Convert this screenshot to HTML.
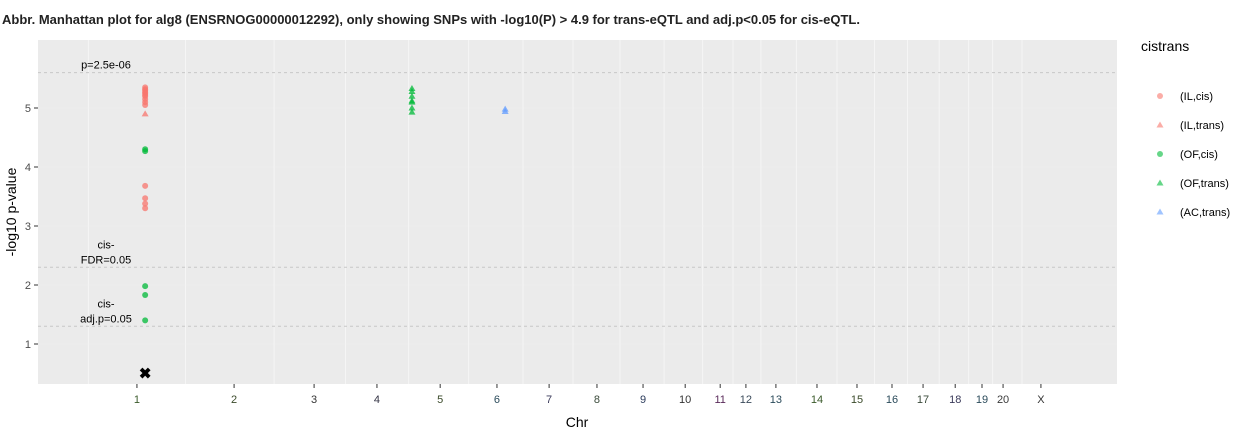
<!DOCTYPE html>
<html><head><meta charset="utf-8"><style>
body{margin:0;background:#fff;width:1251px;height:432px;overflow:hidden;font-family:"Liberation Sans",sans-serif}
</style></head><body>
<svg id="chart" width="1251" height="432" xmlns="http://www.w3.org/2000/svg" font-family="Liberation Sans, sans-serif">
<text x="2" y="24" font-size="13" font-weight="bold" fill="#222">Abbr. Manhattan plot for alg8 (ENSRNOG00000012292), only showing SNPs with -log10(P) &gt; 4.9 for trans-eQTL and adj.p&lt;0.05 for cis-eQTL.</text>
<rect x="38" y="40" width="1079" height="344" fill="#ebebeb"/>
<g id="grid"></g><g id="refs"></g><g id="pts"></g><g id="axes"></g>
<text x="577" y="427" font-size="14" text-anchor="middle" fill="#000">Chr</text>
<text transform="translate(16,212) rotate(-90)" font-size="14" text-anchor="middle" fill="#000">-log10 p-value</text>
<g id="legend">
<text x="1141" y="51" font-size="14" fill="#000">cistrans</text>
</g>
</svg>
<script>
const chrLabels=["1","2","3","4","5","6","7","8","9","10","11","12","13","14","15","16","17","18","19","20","X"];
const chrMid=[277,549,773,949,1126,1285,1431,1565,1694,1812,1910,1982,2066,2181,2293,2391,2478,2568,2643,2702,2808];
const chrColors=["#3a5a2a","#3a4a2a","#333","#334","#3a4a2a","#2a4a5a","#3a3a5a","#3a4a3a","#2a3a5a","#333","#5a2a5a","#3a4a5a","#2a4a5a","#3a5a2a","#3a4a2a","#2a4a5a","#3a4a3a","#3a3a5a","#2a4a5a","#3a3a3a","#333"];
const yTicks=[1,2,3,4,5];
const groups=["(IL,cis)","(IL,trans)","(OF,cis)","(OF,trans)","(AC,trans)"];
const groupColors=["#f8766d","#f8766d","#00ba38","#00ba38","#619cff"];
const groupShapes=["circle","tri","circle","tri","tri"];
const ptPos=[300,300,300,300,300,300,300,300,300,300,300,300,300,300, 300,300,300,300,300,300, 1047,1047,1047,1047,1047,1047,1047, 1308,1308];
const ptVal=[5.35,5.32,5.3,5.27,5.25,5.22,5.2,5.15,5.1,5.05,3.68,3.47,3.38,3.3, 4.9, 4.3,4.27,1.98,1.83,1.4, 5.33,5.28,5.2,5.12,5.1,5.0,4.93, 4.98,4.94];
const ptGroup=[0,0,0,0,0,0,0,0,0,0,0,0,0,0, 1, 2,2,2,2,2, 3,3,3,3,3,3,3, 4,4];
const refVals=[5.6,2.3,1.3];
const refLabels=[["p=2.5e-06"],["cis-","FDR=0.05"],["cis-","adj.p=0.05"]];
const xMark=[300,0.5];
const NS="http://www.w3.org/2000/svg";
const X=v=>38+v*1079/3021, Y=v=>403-v*59;
function mk(t,a,p){const e=document.createElementNS(NS,t);for(const k in a)e.setAttribute(k,a[k]);p.appendChild(e);return e;}
const grid=document.getElementById('grid'),refs=document.getElementById('refs'),pts=document.getElementById('pts'),axes=document.getElementById('axes'),leg=document.getElementById('legend');
// vertical boundaries
const bounds=[X(chrMid[0])-(X(chrMid[1])-X(chrMid[0]))/2];
for(let i=0;i<chrMid.length-1;i++)bounds.push((X(chrMid[i])+X(chrMid[i+1]))/2);
bounds.forEach(b=>{const l=mk('line',{x1:b,x2:b,y1:40,y2:384,stroke:'#f5f5f5','stroke-width':1},grid);

});
yTicks.forEach(t=>{const l=mk('line',{x1:38,x2:1117,y1:Y(t),y2:Y(t),stroke:'#f2f2f2','stroke-width':0.6},grid);


const tk=mk('line',{x1:34,x2:38,y1:Y(t),y2:Y(t),stroke:'#333'},axes);


const tx=mk('text',{x:31,y:Y(t)+4,'font-size':11,'text-anchor':'end',fill:'#4d4d4d'},axes);tx.textContent=t;

});
chrLabels.forEach((c,i)=>{const x=X(chrMid[i]);
const tk=mk('line',{x1:x,x2:x,y1:384,y2:388,stroke:'#333'},axes);


const tx=mk('text',{x:x,y:403,'font-size':11,'text-anchor':'middle',fill:chrColors[i]},axes);tx.textContent=c;

});
refVals.forEach((v,i)=>{const l=mk('line',{x1:38,x2:1117,y1:Y(v),y2:Y(v),stroke:'#c8c8c8','stroke-dasharray':'3,3','stroke-width':1},refs);


const lines=refLabels[i];lines.forEach((s,j)=>{const t=mk('text',{x:106,y:Y(v)-4-(lines.length-1-j)*15,'font-size':11,'text-anchor':'middle',fill:'#000'},refs);t.textContent=s;

});});
function shape(p,cx,cy,g,op){let e;
if(groupShapes[g]=='circle')e=mk('circle',{cx:cx,cy:cy,r:3,fill:groupColors[g],'fill-opacity':op},p);
else e=mk('polygon',{points:`${cx},${cy-3.5} ${cx-3.5},${cy+2.5} ${cx+3.5},${cy+2.5}`,fill:groupColors[g],'fill-opacity':op},p);return e;}
ptVal.forEach((v,i)=>{const e=shape(pts,X(ptPos[i]),Y(v),ptGroup[i],0.75);

});
const xm=mk('text',{x:X(xMark[0]),y:Y(xMark[1])+5,'font-size':15,'font-weight':'bold','text-anchor':'middle',fill:'#000'},pts);xm.textContent='✖';


groups.forEach((g,i)=>{const y=96+i*29;
const s=shape(leg,1160,y,i,0.6);


const t=mk('text',{x:1180,y:y+4,'font-size':11,fill:'#000'},leg);t.textContent=g;

});
</script>
</body></html>
